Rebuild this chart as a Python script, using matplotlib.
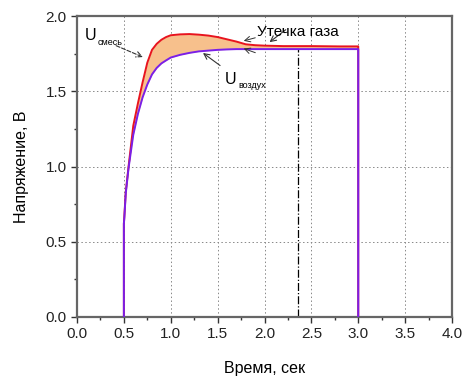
import numpy as np
import matplotlib
matplotlib.use('Agg')
import matplotlib.pyplot as plt
from matplotlib.ticker import MultipleLocator, FormatStrFormatter

# ---------- Data ----------
t = [0.5, 0.5, 0.505, 0.52, 0.55, 0.6, 0.65, 0.7, 0.75, 0.8, 0.85, 0.9, 0.95, 1.0,
     1.1, 1.2, 1.3, 1.4, 1.5, 1.6, 1.7, 1.8, 1.9, 2.0, 2.2, 2.5, 2.8, 3.0, 3.0]
u_mix = [0.0, 0.62, 0.67, 0.83, 1.0, 1.27, 1.42, 1.56, 1.69, 1.775, 1.815, 1.842, 1.86, 1.872,
         1.878, 1.88, 1.876, 1.87, 1.86, 1.845, 1.83, 1.812, 1.806, 1.803, 1.80, 1.80, 1.798, 1.798, 0.0]
u_air = [0.0, 0.62, 0.66, 0.82, 0.99, 1.21, 1.35, 1.46, 1.545, 1.612, 1.655, 1.685, 1.705, 1.724,
         1.742, 1.755, 1.765, 1.77, 1.775, 1.778, 1.78, 1.78, 1.78, 1.78, 1.78, 1.78, 1.78, 1.78, 0.0]
t_leak = 2.36
u_leak_top = 1.78

t = np.array(t); u_mix = np.array(u_mix); u_air = np.array(u_air)

plt.rcParams.update({
    'font.family': ['Liberation Sans', 'DejaVu Sans'],
    'font.size': 10,
})

fig = plt.figure(figsize=(4.70, 3.86), dpi=100)
ax = fig.add_axes([77 / 470, 1 - 317 / 386, (452 - 77) / 470, (317 - 16) / 386])

ax.fill_between(t, u_air, u_mix, where=u_mix >= u_air, color='#f7c08c', linewidth=0)
ax.plot(t, u_air, color='#7a1fe8', linewidth=1.4, zorder=3, solid_joinstyle='round')
ax.plot(t, u_mix, color='#e8141e', linewidth=1.4, zorder=2, solid_joinstyle='round')
ax.plot([t_leak, t_leak], [0, u_leak_top], color='black', linestyle='-.', linewidth=0.9, zorder=1)

ax.set_xlim(0, 4)
ax.set_ylim(0, 2)
ax.xaxis.set_major_locator(MultipleLocator(0.5))
ax.xaxis.set_minor_locator(MultipleLocator(0.25))
ax.yaxis.set_major_locator(MultipleLocator(0.5))
ax.yaxis.set_minor_locator(MultipleLocator(0.25))
ax.xaxis.set_major_formatter(FormatStrFormatter('%.1f'))
ax.yaxis.set_major_formatter(FormatStrFormatter('%.1f'))
ax.grid(True, which='major', color='#888888', linestyle=(0, (1.5, 2.5)), linewidth=0.7)
ax.set_axisbelow(True)
ax.tick_params(direction='out', length=4, width=1, colors='#333333', labelcolor='#222222',
               labelsize=11)
ax.tick_params(which='minor', direction='out', length=2.5, width=1, colors='#333333')
for s in ax.spines.values():
    s.set_color('#666666')
    s.set_linewidth(1.6)

ax.set_xlabel('Время, сек', fontsize=11.5, labelpad=14)
ax.set_ylabel('Напряжение, В', fontsize=11.5, labelpad=12)

# annotations
ax.annotate('', xy=(0.73, 1.72), xytext=(0.39, 1.81),
            arrowprops=dict(arrowstyle='->', linestyle='--', color='#333333', lw=0.8))
ax.text(0.08, 1.84, 'U', fontsize=11.5)
ax.text(0.22, 1.81, 'смесь', fontsize=6.5)

ax.annotate('', xy=(1.32, 1.765), xytext=(1.55, 1.66),
            arrowprops=dict(arrowstyle='->', color='#333333', lw=0.8))
ax.text(1.58, 1.55, 'U', fontsize=11.5)
ax.text(1.72, 1.52, 'воздух', fontsize=6.5)

ax.annotate('', xy=(2.03, 1.815), xytext=(2.25, 1.92),
            arrowprops=dict(arrowstyle='->', color='#333333', lw=0.8))
ax.text(1.92, 1.87, 'Утечка газа', fontsize=11)
ax.annotate('', xy=(1.75, 1.83), xytext=(1.93, 1.86),
            arrowprops=dict(arrowstyle='->', color='#333333', lw=0.7))
ax.annotate('', xy=(1.75, 1.79), xytext=(1.93, 1.75),
            arrowprops=dict(arrowstyle='->', color='#333333', lw=0.7))

fig.savefig('out.png', dpi=100)
